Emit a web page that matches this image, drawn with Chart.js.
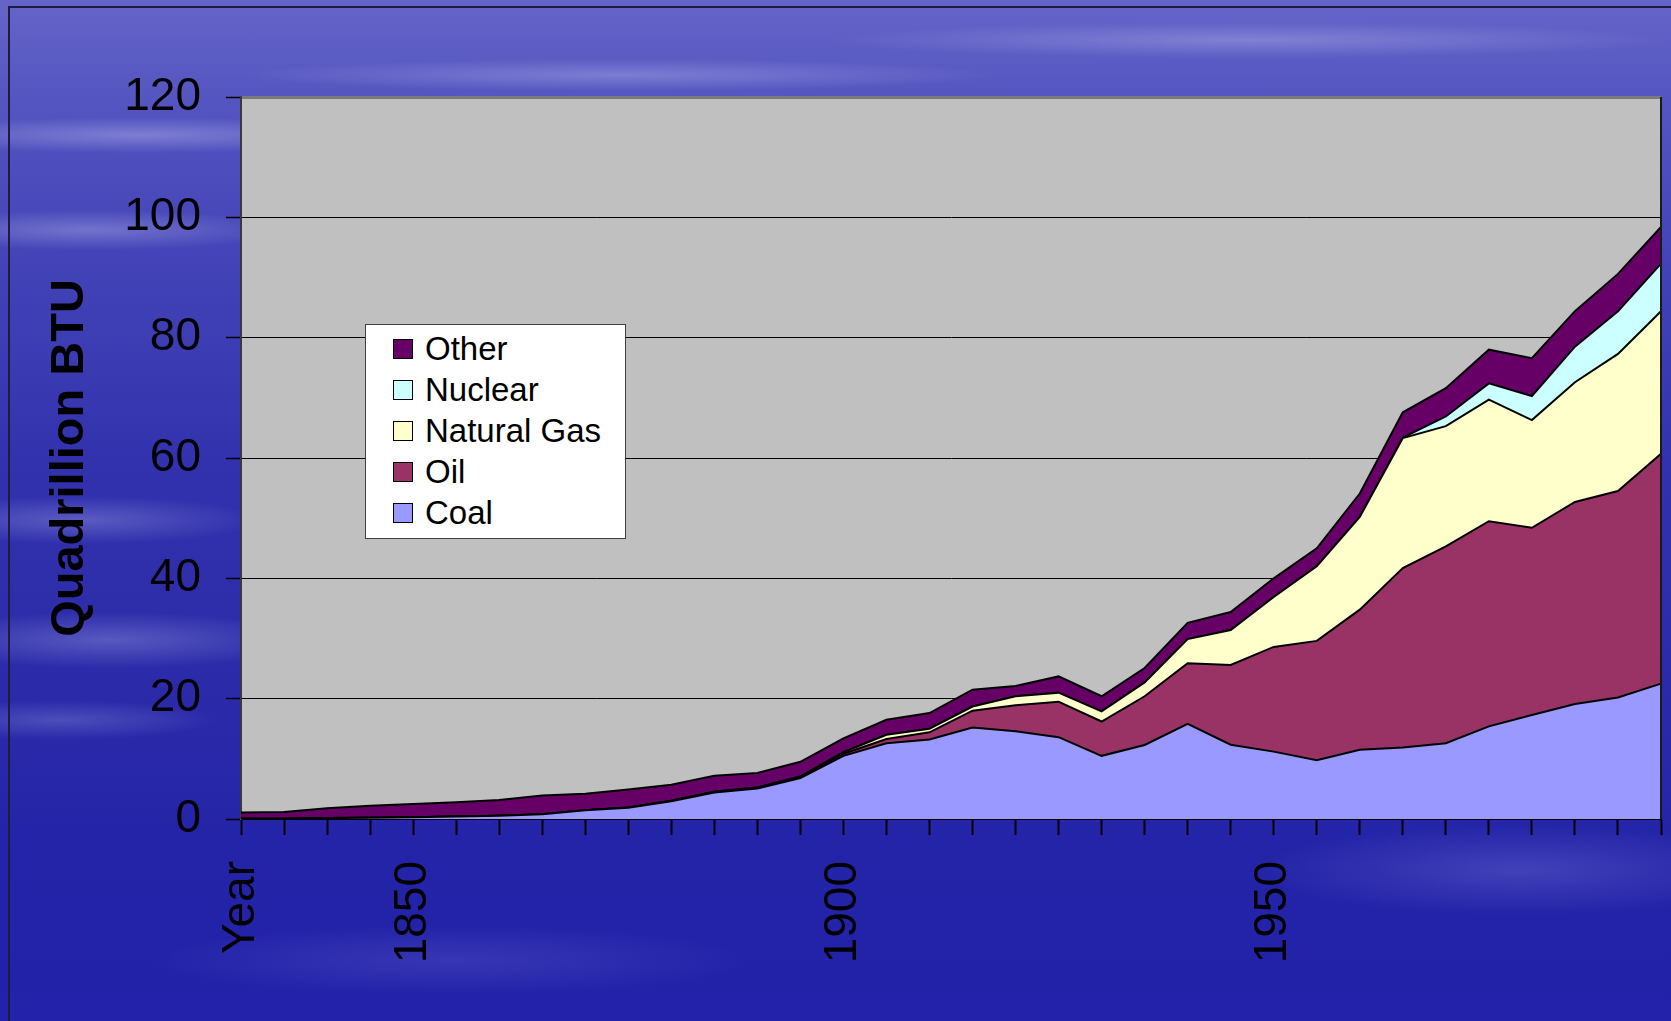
<!DOCTYPE html>
<html>
<head>
<meta charset="utf-8">
<script src="https://cdn.jsdelivr.net/npm/chart.js@4.4.1/dist/chart.umd.min.js"></script>
<style>
  html, body { margin: 0; padding: 0; }
  body {
    width: 1671px; height: 1021px; overflow: hidden; position: relative;
    font-family: 'Liberation Sans', Arial, sans-serif;
    background:
      radial-gradient(ellipse 260px 18px at 140px 135px, rgba(230,230,255,0.3), transparent),
      radial-gradient(ellipse 380px 16px at 620px 75px, rgba(230,230,255,0.25), transparent),
      radial-gradient(ellipse 420px 18px at 1250px 40px, rgba(230,230,255,0.25), transparent),
      radial-gradient(ellipse 300px 16px at 520px 235px, rgba(230,230,255,0.18), transparent),
      radial-gradient(ellipse 200px 20px at 90px 230px, rgba(230,230,255,0.28), transparent),
      radial-gradient(ellipse 180px 24px at 80px 520px, rgba(220,220,255,0.25), transparent),
      radial-gradient(ellipse 200px 28px at 110px 640px, rgba(220,220,255,0.25), transparent),
      radial-gradient(ellipse 160px 20px at 60px 720px, rgba(220,220,255,0.2), transparent),
      radial-gradient(ellipse 260px 45px at 1520px 870px, rgba(200,200,255,0.18), transparent),
      radial-gradient(ellipse 300px 35px at 450px 960px, rgba(200,200,255,0.12), transparent),
      linear-gradient(to bottom, #6464c8 0%, #5252c0 12%, #4444b8 25%, #3232ae 45%, #2c2caa 65%, #2424a8 82%, #2222aa 100%);
  }
  #frame {
    position: absolute; left: 8px; top: 6px; right: -10px; bottom: -10px;
    border-top: 2px solid #1c1c3c; border-left: 2px solid #1c1c3c;
  }
  #wrap { position: absolute; left: 0; top: 0; width: 1671px; height: 1021px; }
  #legend {
    position: absolute; left: 365px; top: 324px; width: 259px; height: 213px;
    background: #ffffff; border: 1px solid #404040;
  }
  .row { position: absolute; left: 27px; height: 40px; display: flex; align-items: center; }
  .sw { width: 18px; height: 18px; border: 1px solid #000; margin-right: 12px; }
  .lbl { font-size: 33px; color: #000; }
</style>
</head>
<body>
<div id="frame"></div>
<div id="wrap"><canvas id="energyChart"></canvas></div>
<div id="legend"></div>
<script>
// Trục hoành: năm (mỗi 5 năm)
const categories = ['Year', '1835', '1840', '1845', '1850', '1855', '1860', '1865', '1870', '1875',
    '1880', '1885', '1890', '1895', '1900', '1905', '1910', '1915', '1920', '1925',
    '1930', '1935', '1940', '1945', '1950', '1955', '1960', '1965', '1970', '1975',
    '1980', '1985', '1990', '1995'];

// Giá trị từng nguồn năng lượng (Quadrillion BTU)
const coal = [0.05, 0.05, 0.15, 0.2, 0.3, 0.4, 0.55, 0.8, 1.45, 1.85, 2.95, 4.4, 5.05, 6.8, 10.5, 12.6,
    13.2, 15.2, 14.6, 13.6, 10.5, 12.3, 15.8, 12.35, 11.2, 9.75, 11.5, 11.9, 12.6, 15.4, 17.3, 19.1, 20.2, 22.5];
const oil = [0, 0, 0, 0, 0, 0, 0, 0, 0, 0.05, 0.05, 0.1, 0.1, 0.15, 0.35, 0.7,
    1.2, 2.8, 4.3, 5.9, 5.7, 8.1, 10.1, 13.25, 17.4, 19.85, 23.3, 29.8, 32.7, 34.1, 31.1, 33.6, 34.3, 38.2];
const naturalGas = [0, 0, 0, 0, 0, 0, 0, 0, 0, 0, 0.05, 0.05, 0.1, 0.1, 0.25, 0.7,
    0.6, 0.7, 1.5, 1.5, 1.7, 2.3, 4.0, 5.8, 8.3, 12.4, 15.4, 21.6, 20.0, 20.2, 17.9, 19.9, 22.8, 23.7];
const nuclear = [0, 0, 0, 0, 0, 0, 0, 0, 0, 0, 0, 0, 0, 0, 0, 0,
    0, 0, 0, 0, 0, 0, 0, 0, 0, 0, 0, 0.1, 1.6, 2.7, 4.0, 5.9, 7.1, 7.9];
const other = [1.05, 1.1, 1.65, 2.0, 2.2, 2.4, 2.6, 3.1, 2.75, 3.0, 2.65, 2.65, 2.4, 2.45, 2.3, 2.5,
    2.6, 2.8, 1.7, 2.7, 2.5, 2.4, 2.7, 3.0, 3.1, 3.0, 3.9, 4.2, 4.7, 5.6, 6.3, 5.9, 6.2, 6.1];

const yTicks = [0, 20, 40, 60, 80, 100, 120];

const FONT = "'Liberation Sans', Arial, sans-serif";

function makeSeries(label, data, color, fill) {
    return {
        label: label,
        data: data,
        backgroundColor: color,
        borderColor: '#000000',
        borderWidth: 2,
        pointRadius: 0,
        tension: 0,
        fill: fill
    };
}

// Bỏ phần đệm tự động của trục để vùng vẽ nằm đúng chỗ
function noPadding(scale) {
    scale.paddingLeft = 0;
    scale.paddingRight = 0;
    scale.paddingTop = 0;
    scale.paddingBottom = 0;
}

// Nền xám của vùng vẽ + viền phải
const plotBackground = {
    id: 'plotBackground',
    beforeDraw(chart) {
        const { ctx, chartArea: a } = chart;
        ctx.save();
        ctx.fillStyle = '#c0c0c0';
        ctx.fillRect(a.left, a.top, a.right - a.left, a.bottom - a.top);
        ctx.restore();
    },
    afterDraw(chart) {
        const { ctx, chartArea: a } = chart;
        ctx.save();
        ctx.strokeStyle = '#1a1a1a';
        ctx.lineWidth = 2;
        ctx.beginPath();
        ctx.moveTo(a.right, a.top);
        ctx.lineTo(a.right, a.bottom);
        ctx.stroke();
        ctx.restore();
    }
};

const chart = new Chart(document.getElementById('energyChart').getContext('2d'), {
    type: 'line',
    data: {
        labels: categories,
        datasets: [
            makeSeries('Coal', coal, '#9999ff', 'origin'),
            makeSeries('Oil', oil, '#993366', '-1'),
            makeSeries('Natural Gas', naturalGas, '#ffffcc', '-1'),
            makeSeries('Nuclear', nuclear, '#ccffff', '-1'),
            makeSeries('Other', other, '#660066', '-1')
        ]
    },
    options: {
        responsive: true,
        maintainAspectRatio: false,
        animation: false,
        layout: { padding: { top: 97, right: 10, left: 0, bottom: 0 } },
        plugins: {
            legend: { display: false },
            tooltip: { enabled: false }
        },
        scales: {
            x: {
                offset: false,
                afterFit: function(scale) {
                    scale.height = 202;
                    noPadding(scale);
                },
                grid: {
                    drawOnChartArea: false,
                    drawTicks: true,
                    tickLength: 16,
                    tickColor: '#000000',
                    tickWidth: 2
                },
                border: { color: '#000000', width: 2 },
                ticks: {
                    autoSkip: false,
                    minRotation: 90,
                    maxRotation: 90,
                    padding: 26,
                    color: '#000000',
                    font: { family: FONT, size: 46 },
                    callback: function(value) {
                        const lab = this.getLabelForValue(value);
                        if (lab === 'Year' || Number(lab) % 50 === 0) return lab;
                        return '';
                    }
                }
            },
            y: {
                stacked: true,
                min: yTicks[0],
                max: yTicks[yTicks.length - 1],
                afterFit: function(scale) {
                    scale.width = 241;
                    noPadding(scale);
                },
                afterBuildTicks: function(scale) {
                    scale.ticks = yTicks.map(v => ({ value: v }));
                },
                grid: {
                    color: ctx => (ctx.tick && ctx.tick.value === 120) ? '#7a7a7a' : '#000000',
                    lineWidth: ctx => (ctx.tick && ctx.tick.value === 120) ? 3 : 1,
                    tickColor: '#000000',
                    tickLength: 15,
                    tickWidth: 1.5
                },
                border: { color: '#3a3a3a', width: 2 },
                ticks: {
                    padding: 25,
                    color: '#000000',
                    font: { family: FONT, size: 46 }
                },
                title: {
                    display: true,
                    text: 'Quadrillion BTU',
                    color: '#000000',
                    font: { family: FONT, size: 47, weight: 'bold' },
                    padding: { top: 42, bottom: 0 }
                }
            }
        }
    },
    plugins: [plotBackground]
});

// Khung chú thích đặt bên trong vùng vẽ (thứ tự ngược)
function buildLegend() {
    const box = document.getElementById('legend');
    const sets = chart.data.datasets.slice().reverse();
    sets.forEach((ds, i) => {
        const row = document.createElement('div');
        row.className = 'row';
        row.style.top = (4 + i * 41) + 'px';
        const sw = document.createElement('div');
        sw.className = 'sw';
        sw.style.background = ds.backgroundColor;
        const lbl = document.createElement('span');
        lbl.className = 'lbl';
        lbl.textContent = ds.label;
        row.appendChild(sw);
        row.appendChild(lbl);
        box.appendChild(row);
    });
}
buildLegend();
</script>
</body>
</html>
